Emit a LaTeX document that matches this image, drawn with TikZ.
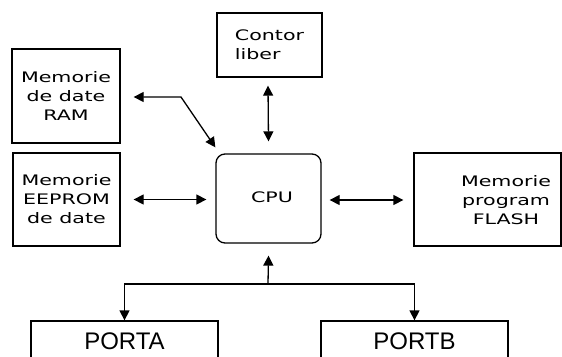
\documentclass[tikz,border=0pt]{standalone}
\usepackage{fontspec}
\newfontfamily\pixfont[FakeStretch=1.42]{DejaVu Sans}
\newfontfamily\bigfont{Liberation Sans}
\usetikzlibrary{arrows.meta,calc}
\begin{document}
\begin{tikzpicture}[x=1pt,y=1pt,
  line width=1.3pt,
  box/.style={draw, inner sep=0pt, line width=1.3pt},
  txt/.style={font=\pixfont\fontsize{14.5}{19}\selectfont, align=center, inner sep=0pt},
  bigtxt/.style={font=\bigfont\fontsize{24}{28}\selectfont},
  tip/.style={arrows={-Triangle[length=10pt,width=10pt]}},
  dtip/.style={arrows={Triangle[length=10pt,width=10pt]-Triangle[length=10pt,width=10pt]}}]
\useasboundingbox[fill=white] (0,0) rectangle (562,-356);
% boxes
\node[box, minimum width=105pt, minimum height=64pt, txt, align=left] (contor) at (269.5,-45) {Contor\\liber};
\node[box, minimum width=108pt, minimum height=94pt, txt] (ram) at (66,-96) {Memorie\\de date\\RAM};
\node[box, minimum width=107pt, minimum height=93pt, txt] (eeprom) at (66.5,-199.5) {Memorie\\EEPROM\\de date};
\node[box, rounded corners=9pt, minimum width=105pt, minimum height=89pt] (cpu) at (268.5,-198.5) {};
\node[txt] (cputxt) at (272,-197.5) {CPU};
\node[box, minimum width=147pt, minimum height=93pt] (flash) at (487.5,-199.5) {};
\node[txt] (flashtxt) at (506,-200) {Memorie\\program\\FLASH};
\node[box, minimum width=187pt, minimum height=40pt, bigtxt] (porta) at (124.5,-341) {PORTA};
\node[box, minimum width=187pt, minimum height=40pt, bigtxt] (portb) at (414.5,-341) {PORTB};
% connectors
\coordinate (rambend) at (181,-97);
\draw[dtip] ($(ram.east)+(13,-1)$) -- (rambend) -- ($(cpu.north west)+(0,6)$);
\draw[dtip] ($(contor.south)+(-1.5,-8)$) -- ($(cpu.north)+(0,12)$);
\draw[dtip] ($(eeprom.east)+(13,0)$) -- ($(cpu.west)+(-9,-1)$);
\draw[dtip] ($(cpu.east)+(8,-1.5)$) -- ($(flash.west)+(-10,-0.5)$);
\coordinate (junc) at (268,-284);
\draw[tip] (junc) -- ($(cpu.south)+(0,-12)$);
\draw[tip] (junc) -| (porta.north);
\draw[tip] (junc) -| (portb.north);
\end{tikzpicture}
\end{document}
